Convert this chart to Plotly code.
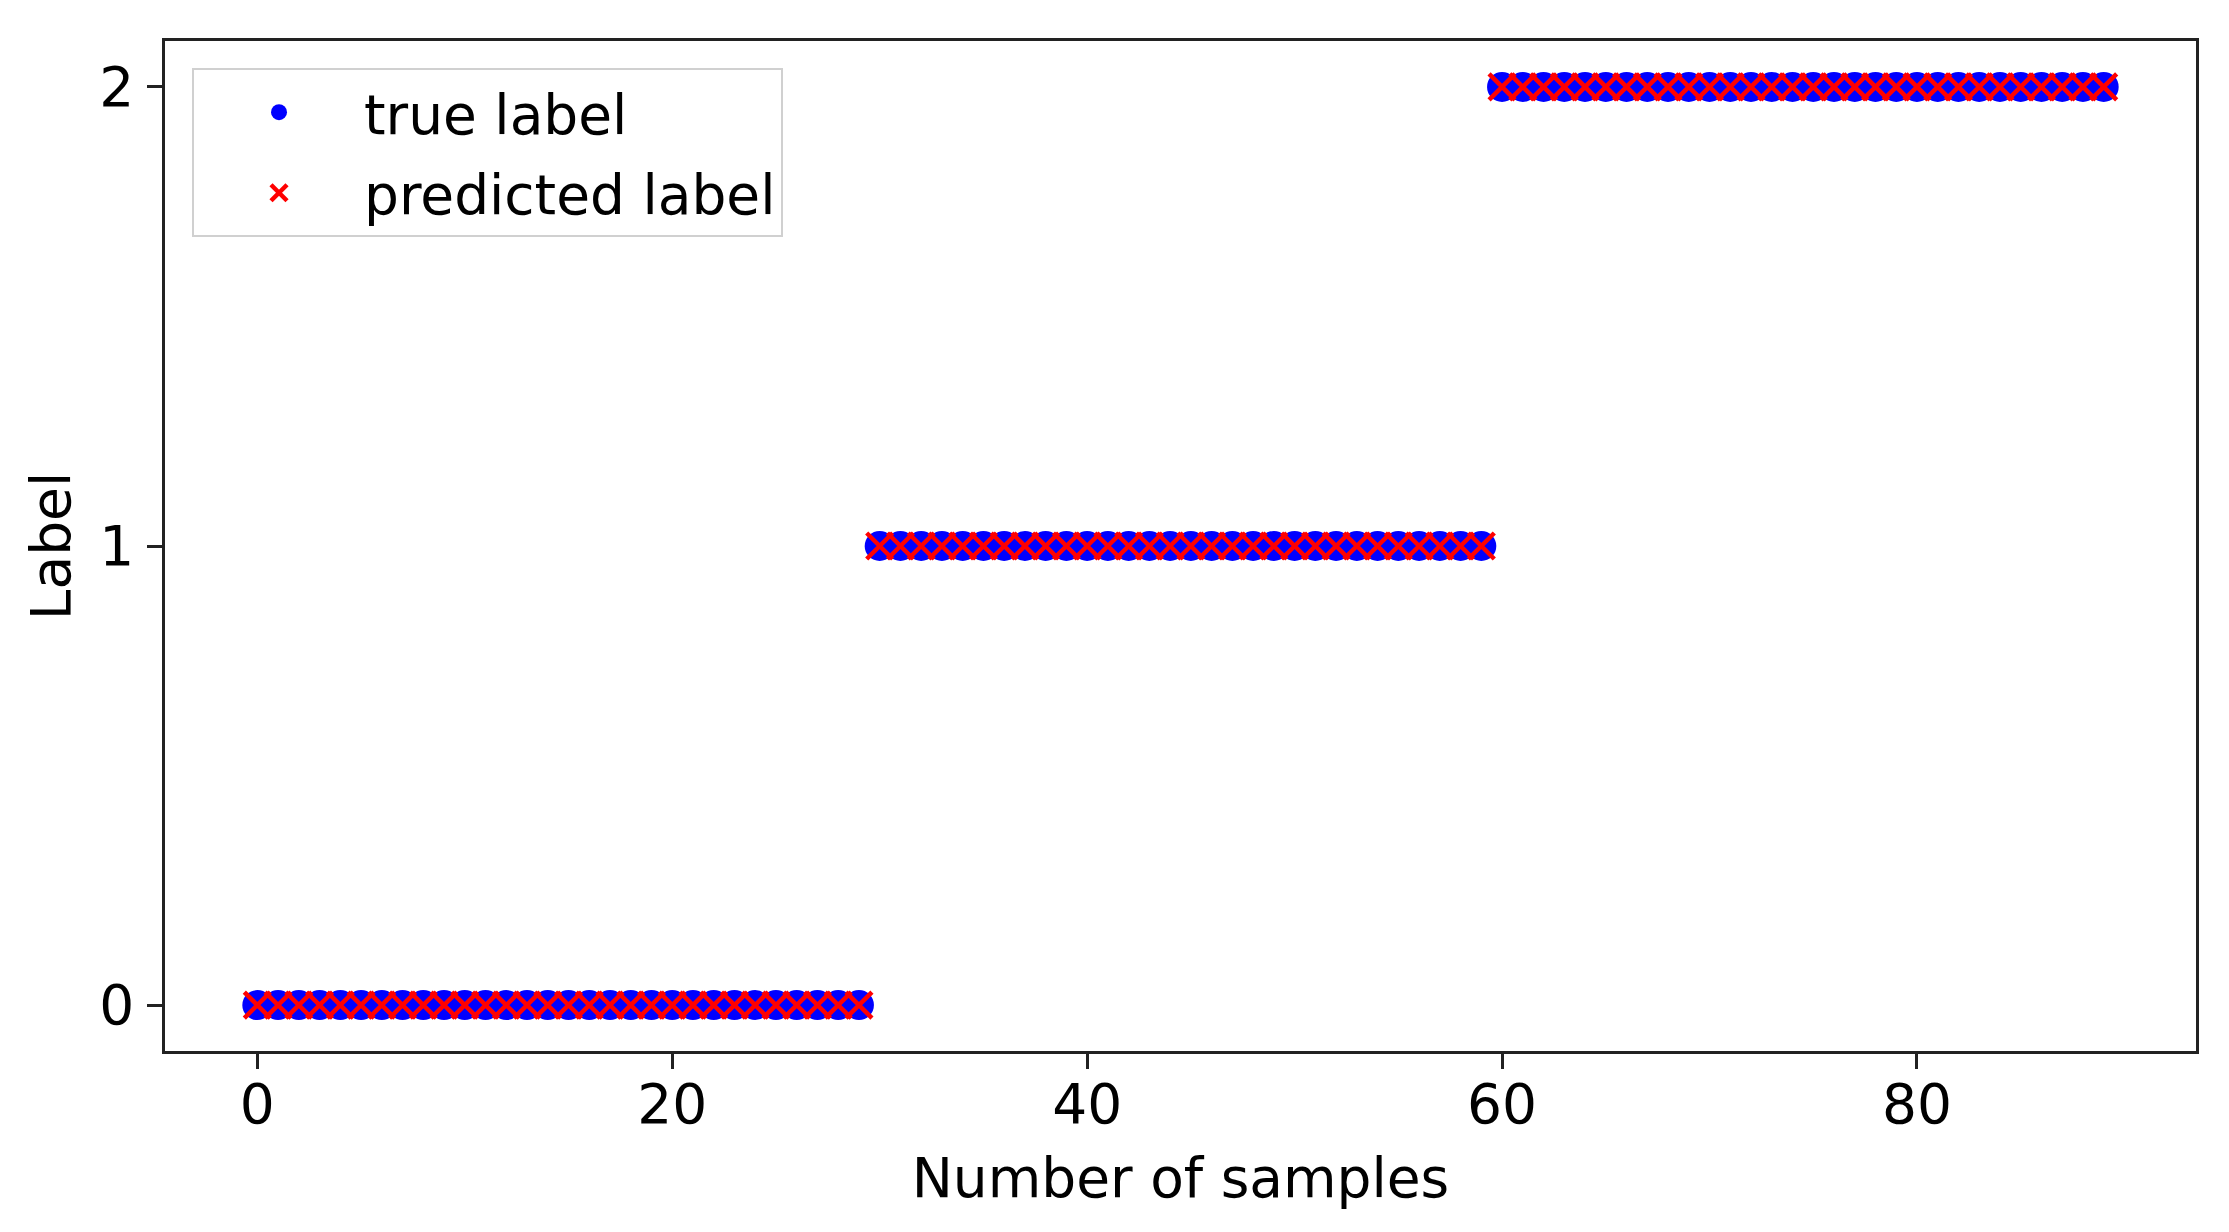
import plotly.graph_objects as go

# sample index (x) and labels (y)
sample_idx = list(range(90))
true_label = [0, 0, 0, 0, 0, 0, 0, 0, 0, 0, 0, 0, 0, 0, 0, 0, 0, 0, 0, 0, 0, 0, 0, 0, 0, 0, 0, 0, 0, 0,
              1, 1, 1, 1, 1, 1, 1, 1, 1, 1, 1, 1, 1, 1, 1, 1, 1, 1, 1, 1, 1, 1, 1, 1, 1, 1, 1, 1, 1, 1,
              2, 2, 2, 2, 2, 2, 2, 2, 2, 2, 2, 2, 2, 2, 2, 2, 2, 2, 2, 2, 2, 2, 2, 2, 2, 2, 2, 2, 2, 2]
pred_label = [0, 0, 0, 0, 0, 0, 0, 0, 0, 0, 0, 0, 0, 0, 0, 0, 0, 0, 0, 0, 0, 0, 0, 0, 0, 0, 0, 0, 0, 0,
              1, 1, 1, 1, 1, 1, 1, 1, 1, 1, 1, 1, 1, 1, 1, 1, 1, 1, 1, 1, 1, 1, 1, 1, 1, 1, 1, 1, 1, 1,
              2, 2, 2, 2, 2, 2, 2, 2, 2, 2, 2, 2, 2, 2, 2, 2, 2, 2, 2, 2, 2, 2, 2, 2, 2, 2, 2, 2, 2, 2]
x_ticks = [0, 20, 40, 60, 80]
y_ticks = [0, 1, 2]

FONT = "DejaVu Sans"
FS = 55

fig = go.Figure()
fig.add_trace(go.Scatter(
    x=sample_idx, y=true_label, mode="markers", name="true label",
    legendgroup="g1",
    marker=dict(symbol="circle", size=30, color="#0000ff", line=dict(width=0)),
))
fig.add_trace(go.Scatter(
    x=sample_idx, y=pred_label, mode="markers", name="predicted label",
    legendgroup="g2",
    marker=dict(symbol="x-thin", size=26, color="#ff0000",
                line=dict(width=4.5, color="#ff0000")),
))

axis_common = dict(
    showline=True, mirror=True, linecolor="#222222", linewidth=2.5,
    ticks="outside", ticklen=15, tickwidth=2.5, tickcolor="#222222",
    showgrid=False, zeroline=False,
    tickfont=dict(family=FONT, size=FS, color="black"),
)

# the page body has an 8px default margin, so the figure is shifted by 8px
fig.update_layout(
    width=2221, height=1224,
    margin=dict(l=157, r=33, t=33, b=181, autoexpand=False),
    paper_bgcolor="white", plot_bgcolor="white",
    font=dict(family=FONT, size=FS, color="black"),
    xaxis=dict(range=[-4.45, 93.45], tickvals=x_ticks, ticklabelstandoff=-12,
               title=dict(text="Number of samples", font=dict(family=FONT, size=FS), standoff=24),
               **axis_common),
    yaxis=dict(range=[-0.1, 2.1], tickvals=y_ticks, ticklabelstandoff=2,
               title=dict(text="Label", font=dict(family=FONT, size=FS), standoff=12),
               **axis_common),
    legend=dict(
        x=0.0133, y=0.9733, xanchor="left", yanchor="top",
        bgcolor="rgba(255,255,255,0.8)", bordercolor="#d0d0d0", borderwidth=2,
        font=dict(family=FONT, size=FS, color="black"),
        itemwidth=160, tracegroupgap=6, traceorder="grouped",
    ),
    showlegend=True,
)

fig.write_html("out.html")
